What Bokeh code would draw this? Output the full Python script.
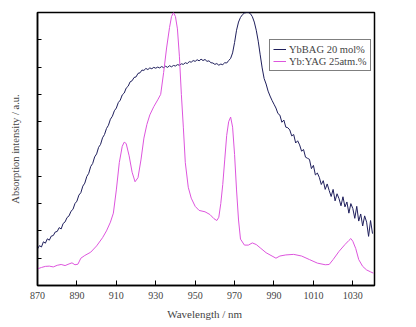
from bokeh.plotting import figure
from bokeh.models import Legend, LegendItem, FixedTicker, Range1d
from bokeh.embed import file_html
from bokeh.resources import INLINE

# ---- data ----
bag_wl = list(range(870, 1041))
bag_abs = [
    0.134, 0.146, 0.141, 0.160, 0.155, 0.171, 0.166, 0.181, 0.183, 0.196,
    0.198, 0.212, 0.207, 0.227, 0.233, 0.249, 0.255, 0.272, 0.279, 0.300,
    0.309, 0.331, 0.340, 0.364, 0.375, 0.399, 0.411, 0.436, 0.447, 0.471,
    0.482, 0.506, 0.517, 0.541, 0.553, 0.575, 0.587, 0.609, 0.620, 0.640,
    0.650, 0.670, 0.679, 0.698, 0.705, 0.723, 0.730, 0.746, 0.750, 0.762,
    0.764, 0.777, 0.779, 0.789, 0.788, 0.795, 0.791, 0.797, 0.794, 0.799,
    0.796, 0.800, 0.797, 0.802, 0.798, 0.803, 0.799, 0.805, 0.801, 0.806,
    0.804, 0.809, 0.807, 0.812, 0.810, 0.816, 0.813, 0.820, 0.818, 0.824,
    0.821, 0.827, 0.823, 0.829, 0.824, 0.828, 0.821, 0.823, 0.816, 0.815,
    0.810, 0.813, 0.807, 0.811, 0.809, 0.816, 0.815, 0.824, 0.832, 0.852,
    0.890, 0.935, 0.965, 0.982, 0.992, 0.998, 1.000, 1.000, 0.996, 0.985,
    0.965, 0.935, 0.895, 0.845, 0.797, 0.758, 0.738, 0.712, 0.694, 0.678,
    0.664, 0.650, 0.630, 0.624, 0.598, 0.606, 0.580, 0.578, 0.570, 0.548,
    0.553, 0.522, 0.530, 0.515, 0.492, 0.498, 0.470, 0.466, 0.462, 0.428,
    0.440, 0.405, 0.412, 0.396, 0.370, 0.384, 0.352, 0.372, 0.348, 0.326,
    0.352, 0.310, 0.336, 0.318, 0.292, 0.325, 0.288, 0.306, 0.265, 0.300,
    0.282, 0.246, 0.290, 0.236, 0.262, 0.218, 0.255, 0.232, 0.180, 0.238,
    0.190,
]

yag_wl = [870, 872, 874, 876, 878, 880, 882, 884, 886, 887.5, 889, 890.5, 892,
          894, 897, 900, 903, 905, 907, 908.5, 910, 911.5, 913, 914, 915, 916.5,
          918, 919.5, 921, 922.5, 924, 925.5, 927, 929, 931, 932.5, 934, 935.5,
          937, 938, 939, 940, 941, 942, 943, 944, 945, 946.5, 948, 950, 952, 955,
          957.5, 959.5, 961, 962, 963, 964, 965, 966, 967, 968, 969, 970, 971,
          972, 973, 975, 977, 979, 981, 983, 986, 989, 991, 993, 996, 1000, 1004,
          1008, 1012, 1016, 1018, 1020, 1023, 1026, 1028, 1029, 1030, 1031.5,
          1033, 1035, 1037, 1039, 1040.5]
yag_abs = [0.061, 0.066, 0.070, 0.071, 0.068, 0.074, 0.077, 0.073, 0.079, 0.083,
           0.076, 0.078, 0.100, 0.110, 0.122, 0.145, 0.175, 0.200, 0.232, 0.265,
           0.350, 0.450, 0.510, 0.525, 0.520, 0.475, 0.415, 0.380, 0.395, 0.460,
           0.540, 0.590, 0.625, 0.655, 0.680, 0.700, 0.780, 0.870, 0.945, 0.985,
           1.000, 0.985, 0.940, 0.840, 0.700, 0.580, 0.450, 0.360, 0.320, 0.290,
           0.275, 0.270, 0.260, 0.245, 0.238, 0.250, 0.300, 0.370, 0.460, 0.550,
           0.600, 0.617, 0.580, 0.480, 0.350, 0.240, 0.170, 0.148, 0.148, 0.156,
           0.150, 0.138, 0.120, 0.108, 0.100, 0.108, 0.112, 0.114, 0.108, 0.095,
           0.082, 0.076, 0.077, 0.095, 0.125, 0.150, 0.165, 0.172, 0.162, 0.135,
           0.095, 0.070, 0.057, 0.050, 0.045]

x_ticks = [870, 890, 910, 930, 950, 970, 990, 1010, 1030]
y_ticks = [0.1, 0.2, 0.3, 0.4, 0.5, 0.6, 0.7, 0.8, 0.9]
series_names = ["YbBAG 20 mol%", "Yb:YAG 25atm.%"]

FONT = "Liberation Serif"
NAVY = "#1f1f5c"
MAGENTA = "#dd55dd"

p = figure(width=416, height=327, output_backend="svg", toolbar_location=None,
           x_range=Range1d(870, 1041), y_range=Range1d(0, 1.0),
           min_border_left=37, min_border_right=42, min_border_top=12,
           min_border_bottom=42)
p.background_fill_color = "white"
p.border_fill_color = "white"
p.grid.visible = False
p.outline_line_color = "black"
p.outline_line_width = 1.5

r1 = p.line(bag_wl, bag_abs, line_color=NAVY, line_width=1)
r2 = p.line(yag_wl, yag_abs, line_color=MAGENTA, line_width=1)

# x axis
p.xaxis.ticker = FixedTicker(ticks=x_ticks)
p.xaxis.minor_tick_line_color = None
p.xaxis.major_tick_in = 5
p.xaxis.major_tick_out = 0
p.xaxis.axis_line_width = 1.5
p.xaxis.major_label_text_font = FONT
p.xaxis.major_label_text_font_size = "10px"
p.xaxis.major_label_standoff = 6
p.xaxis.axis_label = "Wavelength  / nm"
p.xaxis.axis_label_text_font = FONT
p.xaxis.axis_label_text_font_size = "11px"
p.xaxis.axis_label_text_font_style = "normal"
p.xaxis.axis_label_standoff = 6

# y axis (ticks without labels)
p.yaxis.ticker = FixedTicker(ticks=y_ticks)
p.yaxis.minor_tick_line_color = None
p.yaxis.major_tick_in = 4
p.yaxis.major_tick_out = 0
p.yaxis.axis_line_width = 1.5
p.yaxis.major_label_text_color = None
p.yaxis.major_label_text_font_size = "8px"
p.yaxis.major_label_standoff = 0
p.yaxis.axis_label = "Absorption intensity / a.u."
p.yaxis.axis_label_text_font = FONT
p.yaxis.axis_label_text_font_size = "10.5px"
p.yaxis.axis_label_text_font_style = "normal"
p.yaxis.axis_label_standoff = 17

legend = Legend(items=[LegendItem(label=series_names[0], renderers=[r1]),
                       LegendItem(label=series_names[1], renderers=[r2])],
                location=(232, 214))
legend.label_text_font = FONT
legend.label_text_font_size = "10.5px"
legend.label_height = 12
legend.glyph_height = 12
legend.glyph_width = 13
legend.label_standoff = 3
legend.padding = 3
legend.spacing = 0
legend.margin = 0
legend.border_line_color = "black"
legend.border_line_width = 1
legend.background_fill_alpha = 1
p.add_layout(legend, "center")

open("out.html", "w").write(file_html(p, INLINE))
